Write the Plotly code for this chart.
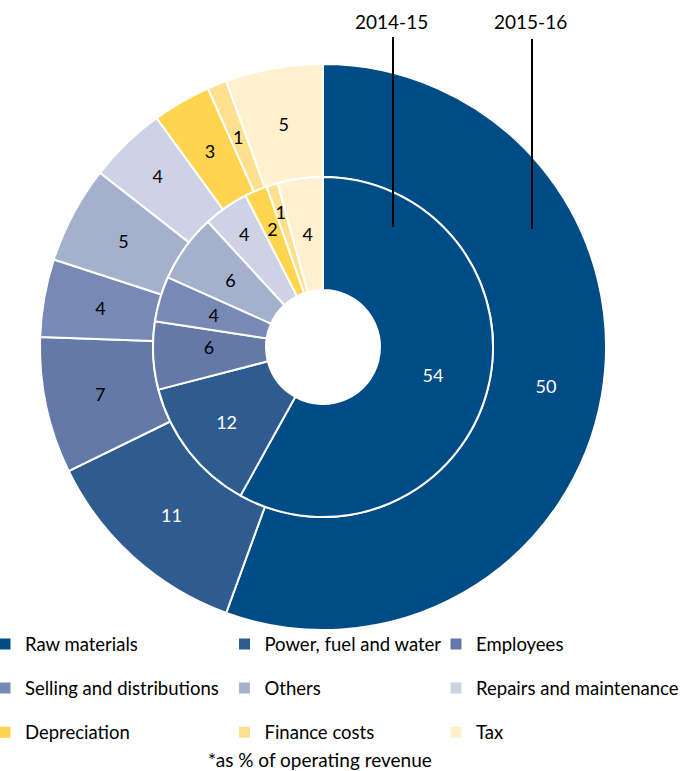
import plotly.graph_objects as go

categories = ["Raw materials", "Power, fuel and water", "Employees",
              "Selling and distributions", "Others", "Repairs and maintenance",
              "Depreciation", "Finance costs", "Tax"]
values_2014_15 = [54, 12, 6, 4, 6, 4, 2, 1, 4]
values_2015_16 = [50, 11, 7, 4, 5, 4, 3, 1, 5]
colors = ["#004C86", "#2E5C91", "#6479A8", "#7889B5", "#A4B0CC",
          "#CDD3E4", "#FFD54F", "#FFE08E", "#FFF0CE"]
text_colors = ["white", "white", "black", "black", "black", "black",
               "black", "black", "black"]

W, H = 687, 771
cx, cy = 323, 347
R_out, R_in, R_hole = 283, 170, 57

def dom(r):
    return dict(x=[(cx - r) / W, (cx + r) / W],
                y=[1 - (cy + r) / H, 1 - (cy - r) / H])

font_family = "Lato, Open Sans, sans-serif"
FS = 18

fig = go.Figure()

def ring(values, r_outer, r_inner, name):
    fig.add_trace(go.Pie(
        labels=categories, values=values, name=name, textinfo="none",
        hole=r_inner / r_outer, sort=False, direction="clockwise", rotation=0,
        marker=dict(colors=colors, line=dict(color="white", width=2)),
        domain=dom(r_outer), hoverinfo="label+value", showlegend=False))

def label_ring(values, show, r_outer, r_inner, name):
    # transparent ring used only to place the value labels
    fig.add_trace(go.Pie(
        labels=categories, values=values, name=name,
        text=[str(v) if s else "" for v, s in zip(values, show)],
        textinfo="text", textposition="inside",
        insidetextorientation="horizontal",
        textfont=dict(size=FS, color=text_colors, family=font_family),
        hole=r_inner / r_outer, sort=False, direction="clockwise", rotation=0,
        marker=dict(colors=["rgba(0,0,0,0)"] * len(values), line=dict(width=0)),
        domain=dom(r_outer), hoverinfo="skip", showlegend=False))

def thin_label_ring(values, show, r_mid, name, thickness=6):
    label_ring(values, show, r_mid + thickness / 2, r_mid - thickness / 2, name)

ring(values_2015_16, R_out, R_in, "2015-16")
ring(values_2014_15, R_in, R_hole, "2014-15")

# label placement groups (wide slices use the full ring, narrow ones a mid-radius ring)
label_ring(values_2015_16, [True, True, True] + [False] * 6, R_out, R_in, "2015-16 labels")
thin_label_ring(values_2015_16, [False] * 3 + [True, True, False, True, True, True],
                226, "2015-16 labels")
thin_label_ring(values_2015_16, [False] * 5 + [True, False, False, False],
                238, "2015-16 labels")
label_ring(values_2014_15, [True, True] + [False] * 7, R_in, R_hole, "2014-15 labels")
thin_label_ring(values_2014_15, [False, False, True, True, True, False, False, False, True],
                114, "2014-15 labels")
thin_label_ring(values_2014_15, [False] * 6 + [True, False, False], 128, "2014-15 labels")
thin_label_ring(values_2014_15, [False] * 5 + [True, False, False, False], 138,
                "2014-15 labels")
thin_label_ring(values_2014_15, [False] * 7 + [True, False], 141, "2014-15 labels")

# legend entries: three columns, each its own legend
legend_ids = ["legend", "legend2", "legend3"]
for i, (cat, col) in enumerate(zip(categories, colors)):
    fig.add_trace(go.Scatter(
        x=[None], y=[None], mode="markers", name=cat,
        marker=dict(symbol="square", size=11, color=col),
        legend=legend_ids[i % 3], legendgroup=cat, showlegend=True,
        hoverinfo="skip"))

# series labels with leader lines
for label, x_px, y0, y1 in [("2014-15", 393, 37, 227), ("2015-16", 532, 39, 229)]:
    fig.add_shape(type="line", xref="paper", yref="paper",
                  x0=x_px / W, x1=x_px / W, y0=1 - y0 / H, y1=1 - y1 / H,
                  line=dict(color="black", width=2))
    fig.add_annotation(text=label, xref="paper", yref="paper",
                       x=(x_px - 2) / W, y=1 - 21 / H, showarrow=False,
                       xanchor="center", yanchor="middle",
                       font=dict(size=19, color="black", family=font_family))

fig.add_annotation(text="*as % of operating revenue", xref="paper", yref="paper",
                   x=320 / W, y=1 - 759 / H, showarrow=False,
                   xanchor="center", yanchor="middle",
                   font=dict(size=19, color="black", family=font_family))

leg_common = dict(orientation="v", yanchor="top", xanchor="left",
                  traceorder="grouped", tracegroupgap=17,
                  bgcolor="rgba(0,0,0,0)",
                  font=dict(size=18.5, color="black", family=font_family))
leg_y = 1 - 625.5 / H

fig.update_layout(
    width=W, height=H, margin=dict(l=0, r=0, t=0, b=0),
    paper_bgcolor="white", plot_bgcolor="white",
    uniformtext=dict(minsize=FS, mode="show"),
    xaxis=dict(visible=False), yaxis=dict(visible=False),
    legend=dict(x=0, y=leg_y, indentation=-15, **leg_common),
    legend2=dict(x=224.5 / W, y=leg_y, **leg_common),
    legend3=dict(x=436 / W, y=leg_y, **leg_common),
)

fig.write_html("out.html", config={"displayModeBar": False},
               post_script="document.body.style.margin='0px';")
